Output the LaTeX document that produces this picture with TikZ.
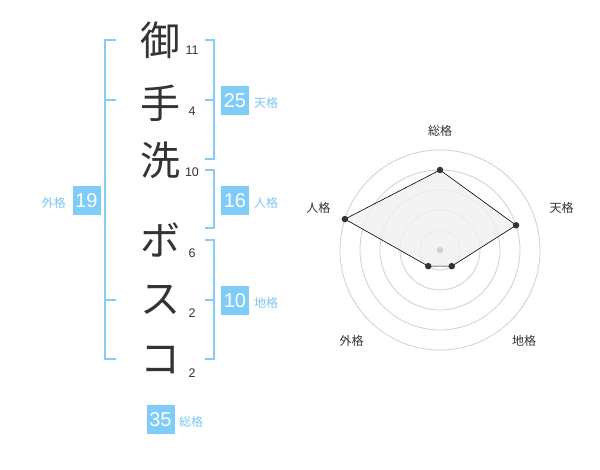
\documentclass[tikz,border=0pt]{standalone}
\usepackage{fontspec}
\setmainfont{Liberation Sans}
\newfontfamily\cjk{Noto Sans CJK JP}
\definecolor{boxblue}{HTML}{80CCF8}
\definecolor{lblblue}{HTML}{7EC8F2}
\definecolor{brblue}{HTML}{85CDF5}
\definecolor{ink}{HTML}{333333}
\definecolor{ringgray}{HTML}{D0D0D0}
\definecolor{polyfill}{HTML}{F0F0F0}
\tikzset{
  bigch/.style={font=\cjk\fontsize{40}{40}\selectfont, text=ink, inner sep=0pt},
  strokes/.style={font=\fontsize{12.5}{12.5}\selectfont, text=ink, inner sep=0pt},
  numbox/.style={fill=boxblue, text=white, font=\fontsize{20}{20}\selectfont, minimum width=28pt, minimum height=29pt, inner sep=0pt},
  kaku/.style={font=\cjk\fontsize{12}{12}\selectfont, text=lblblue, inner sep=0pt},
  bracket/.style={draw=brblue, line width=2pt},
  ring/.style={draw=ringgray, line width=0.8pt},
  axlbl/.style={font=\cjk\fontsize{12}{12}\selectfont, text=ink, inner sep=0pt},
  vdot/.style={circle, fill=ink, inner sep=0pt, minimum size=6.5pt},
}
\begin{document}
\begin{tikzpicture}[x=1pt,y=-1pt]
\useasboundingbox[fill=white] (0,0) rectangle (600,470);
% characters
\node[bigch] (c1) at (160,40) {御};
\node[bigch] (c2) at (160,103) {手};
\node[bigch] (c3) at (160,160) {洗};
\node[bigch] (c4) at (160,240) {ボ};
\node[bigch] (c5) at (160,300) {ス};
\node[bigch] (c6) at (160,360) {コ};
% stroke counts
\node[strokes] (s1) at (192,50) {11};
\node[strokes] (s2) at (192,111) {4};
\node[strokes] (s3) at (192,172) {10};
\node[strokes] (s4) at (192,253) {6};
\node[strokes] (s5) at (192,313) {2};
\node[strokes] (s6) at (192,373) {2};
% brackets
\draw[bracket] (116,40) -- (105,40) -- (105,359) -- (116,359);
\draw[bracket] (105,100) -- (116,100);
\draw[bracket] (105,300) -- (116,300);
\draw[bracket] (205,40) -- (214,40) -- (214,159) -- (205,159);
\draw[bracket] (214,100) -- (205,100);
\draw[bracket] (205,170) -- (214,170) -- (214,228) -- (205,228);
\draw[bracket] (205,240) -- (214,240) -- (214,359) -- (205,359);
\draw[bracket] (214,300) -- (205,300);
% boxes
\node[numbox] (ten) at (235,100.5) {25};
\node[kaku, anchor=west] (tenl) at (254,103) {天格};
\node[numbox] (jin) at (235,200.5) {16};
\node[kaku, anchor=west] (jinl) at (254,203) {人格};
\node[numbox] (chi) at (235,300.5) {10};
\node[kaku, anchor=west] (chil) at (254,303) {地格};
\node[numbox] (gai) at (86.5,200.5) {19};
\node[kaku, anchor=east] (gail) at (66,203) {外格};
\node[numbox] (sou) at (160.5,419.5) {35};
\node[kaku, anchor=west] (soul) at (179,422) {総格};
% radar
\begin{scope}[shift={(440,250)}, yscale=-1]
  \foreach \r in {20,40,60,80,100} \draw[ring] (0,0) circle[radius=\r];
  \coordinate (pS) at (90:80);
  \coordinate (pT) at (18:80);
  \coordinate (pC) at (-54:20);
  \coordinate (pG) at (-126:20);
  \coordinate (pJ) at (162:100);
  \draw[fill=polyfill, fill opacity=0.8, draw=black, line width=0.6pt] (pS) -- (pT) -- (pC) -- (pG) -- (pJ) -- cycle;
  \node[circle, fill=ringgray, inner sep=0pt, minimum size=6.5pt] (ctr) at (0,0) {};
  \foreach \p in {pS,pT,pC,pG,pJ} \node[vdot] at (\p) {};
  \node[axlbl] (aS) at (0,119.5) {総格};
  \node[axlbl] (aT) at (121.7,41.7) {天格};
  \node[axlbl] (aC) at (84,-90.7) {地格};
  \node[axlbl] (aG) at (-88.3,-90.7) {外格};
  \node[axlbl] (aJ) at (-121.7,41.7) {人格};
\end{scope}
\end{tikzpicture}
\end{document}
